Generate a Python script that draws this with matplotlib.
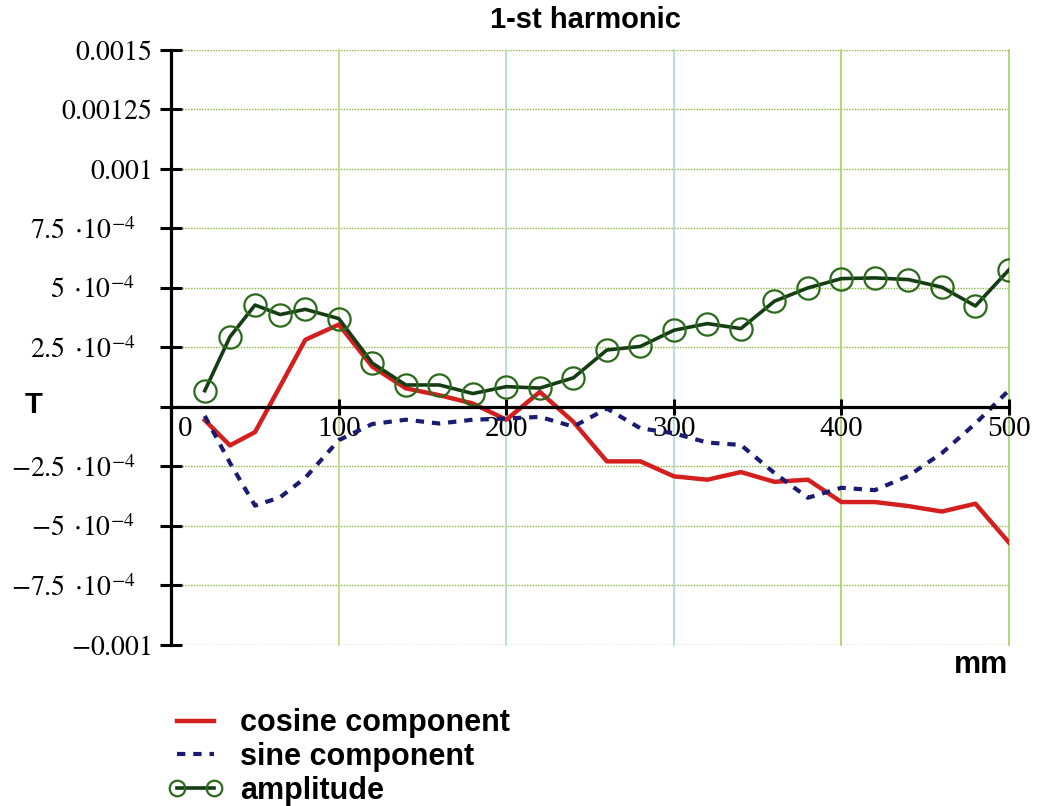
import matplotlib
matplotlib.use("Agg")
import matplotlib.pyplot as plt
from matplotlib.transforms import ScaledTranslation

# position along the piece, mm
x_mm = [20, 35, 50, 65, 80, 100, 120, 140, 160, 180, 200, 220, 240,
        260, 280, 300, 320, 340, 360, 380, 400, 420, 440, 460, 480, 500]

# values in units of 1e-4 T
cosine = [-0.56, -1.62, -1.06, 0.87, 2.82, 3.46, 1.69, 0.78, 0.49, 0.14,
          -0.54, 0.63, -0.63, -2.29, -2.29, -2.92, -3.06, -2.74, -3.15,
          -3.06, -4.0, -4.0, -4.17, -4.4, -4.07, -5.7]
sine = [-0.38, -2.35, -4.15, -3.8, -2.98, -1.4, -0.72, -0.54, -0.7, -0.54,
        -0.49, -0.42, -0.83, -0.07, -0.9, -1.11, -1.5, -1.6, -2.78, -3.82,
        -3.4, -3.5, -2.9, -1.94, -0.7, 0.7]
amplitude = [0.68, 2.94, 4.28, 3.88, 4.1, 3.71, 1.84, 0.92, 0.92, 0.56,
             0.85, 0.79, 1.22, 2.39, 2.54, 3.22, 3.5, 3.29, 4.44, 5.0, 5.39,
             5.42, 5.35, 5.03, 4.24, 5.76]

y_ticks = [-0.001, -0.00075, -0.0005, -0.00025, 0, 0.00025, 0.0005,
           0.00075, 0.001, 0.00125, 0.0015]
y_labels = [r"$-0.001$", r"$-7.5\;\cdot\!10^{-4}$", r"$-5\;\cdot\!10^{-4}$",
            r"$-2.5\;\cdot\!10^{-4}$", "", r"$2.5\;\cdot\!10^{-4}$",
            r"$5\;\cdot\!10^{-4}$", r"$7.5\;\cdot\!10^{-4}$", r"$0.001$",
            r"$0.00125$", r"$0.0015$"]
x_ticks = [0, 100, 200, 300, 400, 500]
x_labels = ["0", "100", "200", "300", "400", "500"]
vgrid_colors = ["#b9d86e", "#a9d6d2", "#a9d6d8", "#9fcc55", "#9fcc55"]

plt.rcParams["mathtext.fontset"] = "stix"
plt.rcParams["font.family"] = "Liberation Sans"

scale = 1e-4
cos_v = [v * scale for v in cosine]
sin_v = [v * scale for v in sine]
amp_v = [v * scale for v in amplitude]

fig = plt.figure(figsize=(10.38, 8.06), dpi=100)
ax = fig.add_axes([0.165, 0.2, 0.807, 0.738])

# grid
for yt in y_ticks:
    if yt != 0:
        ax.axhline(yt, color="#8cb840", lw=1.0, ls=(0, (1, 1)), zorder=0)
for xt, c in zip(x_ticks[1:], vgrid_colors):
    ax.axvline(xt, color=c, lw=1.1, zorder=0, clip_on=False)

l_cos, = ax.plot(x_mm, cos_v, color="#d41f1f", lw=3.2, zorder=3,
                 label="cosine component")
l_sin, = ax.plot(x_mm, sin_v, color="#1b1b72", lw=3.0, ls=(0, (2, 1.9)),
                 zorder=3, label="sine component")
l_amp, = ax.plot(x_mm, amp_v, color="#143d14", lw=2.6, marker="o",
                 markersize=16, markerfacecolor="none",
                 markeredgecolor="#2b6a1c", markeredgewidth=1.6, zorder=4,
                 label="amplitude")

ax.set_xlim(0, 500)
ax.set_ylim(-0.001, 0.0015)

ax.spines["top"].set_visible(False)
ax.spines["right"].set_visible(False)
ax.spines["bottom"].set_position(("data", 0))
ax.spines["left"].set_linewidth(2.3)
ax.spines["bottom"].set_linewidth(2.3)
ax.spines["left"].set_zorder(5)
ax.spines["bottom"].set_zorder(5)

ax.set_yticks(y_ticks)
ax.set_yticklabels(y_labels)
ax.set_xticks(x_ticks)
ax.set_xticklabels(x_labels)
ax.tick_params(axis="y", direction="inout", length=16, width=2.2,
               labelsize=20, pad=6)
ax.tick_params(axis="x", direction="inout", length=11, width=2.2,
               labelsize=21, pad=1)

# labels with a power of ten end further left in the original
for lab in ax.get_yticklabels():
    if "10" in lab.get_text():
        lab.set_transform(lab.get_transform()
                          + ScaledTranslation(-12 / 72, 0,
                                              fig.dpi_scale_trans))

for lab in ax.get_xticklabels():
    lab.set_fontfamily("Liberation Serif")
zero_lab = ax.get_xticklabels()[0]
zero_lab.set_ha("left")
zero_lab.set_transform(zero_lab.get_transform()
                       + ScaledTranslation(5 / 72, 0, fig.dpi_scale_trans))

fig.text(0.564, 0.975, "1-st harmonic", ha="center", va="center",
         fontsize=21, fontweight="bold")
fig.text(0.024, 0.497, "T", ha="left", va="center", fontsize=21,
         fontweight="bold")
fig.text(0.971, 0.175, "mm", ha="right", va="center", fontsize=22,
         fontweight="bold")

ax.legend(handles=[l_cos, l_sin, l_amp], loc="upper left",
          bbox_to_anchor=(0.162, 0.121), bbox_transform=fig.transFigure,
          frameon=False, numpoints=2, handlelength=1.8, handletextpad=0.55,
          labelspacing=0.12, borderpad=0, borderaxespad=0, markerscale=0.7,
          prop={"weight": "bold", "size": 22})

fig.savefig("out.png", dpi=100)
